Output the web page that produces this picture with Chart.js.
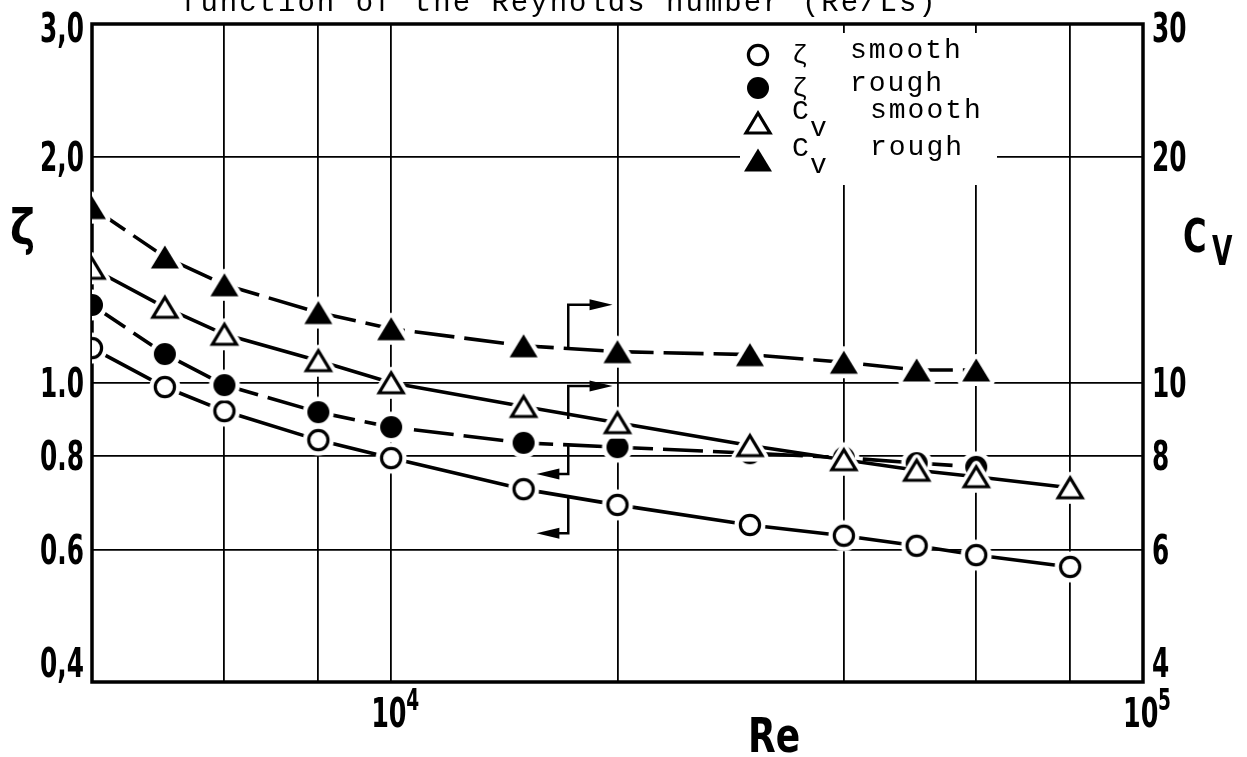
<!DOCTYPE html>
<html>
<head>
<meta charset="utf-8">
<title>Drag coefficient vs Reynolds number</title>
<script src="https://cdn.jsdelivr.net/npm/chart.js@4.4.1/dist/chart.umd.min.js"></script>
<style>
  html, body { margin: 0; padding: 0; background: #fff; }
  canvas { display: block; }
</style>
</head>
<body>
<canvas id="reChart" width="1247" height="757"></canvas>
<script>
// Reynolds numbers of the measuring points
const reSmooth = [4000, 5000, 6000, 8000, 10000, 15000, 20000, 30000, 40000, 50000, 60000, 80000];
const reRough = [4000, 5000, 6000, 8000, 10000, 15000, 20000, 30000, 40000, 50000, 60000];

// zeta (left axis) and Cv (right axis)
const zetaSmooth = [1.112, 0.987, 0.917, 0.839, 0.794, 0.722, 0.688, 0.647, 0.626, 0.607, 0.590, 0.569];
const zetaRough = [1.269, 1.092, 0.993, 0.914, 0.873, 0.832, 0.821, 0.806, 0.795, 0.782, 0.773];
const cvSmooth = [14.2, 12.6, 11.6, 10.7, 10.0, 9.3, 8.85, 8.25, 7.9, 7.65, 7.5, 7.25];
const cvRough = [17.1, 14.7, 13.5, 12.4, 11.8, 11.2, 11.0, 10.9, 10.65, 10.4, 10.4];

// axes
const reGridlines = [6000, 8000, 10000, 20000, 40000, 60000, 80000];
const reTickValues = [10000, 100000];
const zetaTicks = [0.4, 0.6, 0.8, 1.0, 2.0, 3.0];
const zetaTickLabels = ["0,4", "0.6", "0.8", "1.0", "2,0", "3,0"];
const cvTicks = [4, 6, 8, 10, 20, 30];
const cvTickLabels = ["4", "6", "8", "10", "20", "30"];

// bracket arrows telling which axis a curve belongs to (Re, zeta values)
const arrowNotes = [
  { re: 17200, tipRe: 19700, from: 1.115, to: 1.27 },
  { re: 17200, tipRe: 19700, from: 0.895, to: 0.99 },
  { re: 17200, tipRe: 15600, from: 0.827, to: 0.756 },
  { re: 17200, tipRe: 15600, from: 0.705, to: 0.631 }
];

const SANS = "'DejaVu Sans', 'Liberation Sans', sans-serif";
const MONO = "'Liberation Mono', 'DejaVu Sans Mono', monospace";

function makeMarker(shape, filled) {
  const c = document.createElement("canvas");
  c.width = 44;
  c.height = 44;
  const g = c.getContext("2d");
  const cx = 22, cy = 22;
  const tri = (w, h) => {
    g.beginPath();
    g.moveTo(cx, cy - h / 2);
    g.lineTo(cx + w / 2, cy + h / 2);
    g.lineTo(cx - w / 2, cy + h / 2);
    g.closePath();
  };
  if (shape === "circle") {
    g.beginPath();
    g.arc(cx, cy, 15.5, 0, Math.PI * 2);
    g.fillStyle = "#fff";
    g.fill();
    g.beginPath();
    g.arc(cx, cy, filled ? 11 : 9.6, 0, Math.PI * 2);
    g.fillStyle = filled ? "#000" : "#fff";
    g.fill();
    if (!filled) {
      g.lineWidth = 3.2;
      g.strokeStyle = "#000";
      g.stroke();
    }
  } else {
    tri(28, 23);
    g.lineJoin = "round";
    g.lineWidth = 9;
    g.strokeStyle = "#fff";
    g.stroke();
    g.fillStyle = "#fff";
    g.fill();
    if (filled) {
      tri(28, 23);
      g.fillStyle = "#000";
      g.fill();
    } else {
      tri(24, 20);
      g.lineJoin = "miter";
      g.lineWidth = 3.2;
      g.strokeStyle = "#000";
      g.stroke();
    }
  }
  return c;
}

const markers = {
  openCircle: makeMarker("circle", false),
  filledCircle: makeMarker("circle", true),
  openTriangle: makeMarker("triangle", false),
  filledTriangle: makeMarker("triangle", true)
};

function series(xs, ys) {
  return xs.map((x, i) => ({ x: x, y: ys[i] }));
}

function lineSet(label, data, axis, marker, dashed) {
  return {
    label: label,
    data: data,
    yAxisID: axis,
    borderColor: "#000",
    borderWidth: 3.6,
    borderDash: dashed ? [40, 10] : [],
    tension: 0,
    pointStyle: marker,
    pointRadius: 11,
    pointHoverRadius: 11
  };
}

// dataset 0 is painted last (on top)
const datasets = [
  lineSet("Cv smooth", series(reSmooth, cvSmooth), "y2", markers.openTriangle, false),
  lineSet("ζ rough", series(reRough, zetaRough), "y", markers.filledCircle, true),
  lineSet("ζ smooth", series(reSmooth, zetaSmooth), "y", markers.openCircle, false),
  lineSet("Cv rough", series(reRough, cvRough), "y2", markers.filledTriangle, true)
];

const legendRows = [
  { marker: markers.openCircle, sym: "ζ", sub: "", text: "smooth" },
  { marker: markers.filledCircle, sym: "ζ", sub: "", text: "rough" },
  { marker: markers.openTriangle, sym: "C", sub: "v", text: "smooth" },
  { marker: markers.filledTriangle, sym: "C", sub: "v", text: "rough" }
];

function drawText(ctx, text, x, y, o) {
  const size = o.size, sx = o.sx || 1;
  ctx.save();
  ctx.font = (o.weight || "normal") + " " + size + "px " + (o.family || SANS);
  ctx.fillStyle = "#000";
  ctx.textAlign = "left";
  ctx.textBaseline = "alphabetic";
  if (o.spacing) ctx.letterSpacing = o.spacing;
  const w = ctx.measureText(text).width * sx;
  const left = o.align === "right" ? x - w : o.align === "center" ? x - w / 2 : x;
  // "middle" puts the digit centre on y, otherwise y is the baseline
  ctx.translate(left, o.middle ? y + size * 0.36 : y);
  ctx.scale(sx, 1);
  ctx.fillText(text, 0, 0);
  ctx.restore();
}

const figurePlugin = {
  id: "figure",
  beforeDatasetsDraw(chart) {
    const { ctx, chartArea: a } = chart;
    ctx.save();
    ctx.lineWidth = 3.5;
    ctx.strokeStyle = "#000";
    ctx.strokeRect(a.left, a.top, a.right - a.left, a.bottom - a.top);
    ctx.restore();
  },
  afterDatasetsDraw(chart) {
    const { ctx, scales } = chart;
    const x = scales.x, y = scales.y;

    // axis arrows
    ctx.save();
    ctx.strokeStyle = "#000";
    ctx.fillStyle = "#000";
    ctx.lineWidth = 2.5;
    arrowNotes.forEach(n => {
      const bx = x.getPixelForValue(n.re);
      const tx = x.getPixelForValue(n.tipRe);
      const y0 = y.getPixelForValue(n.from);
      const y1 = y.getPixelForValue(n.to);
      const dir = Math.sign(tx - bx);
      ctx.beginPath();
      ctx.moveTo(bx, y0);
      ctx.lineTo(bx, y1);
      ctx.lineTo(tx - dir * 20, y1);
      ctx.stroke();
      ctx.beginPath();
      ctx.moveTo(tx, y1);
      ctx.lineTo(tx - dir * 23, y1 - 5.5);
      ctx.lineTo(tx - dir * 23, y1 + 5.5);
      ctx.closePath();
      ctx.fill();
    });
    ctx.restore();

    // legend, on a white patch over the grid
    ctx.save();
    ctx.fillStyle = "#fff";
    ctx.fillRect(740, 33, 257, 152);
    ctx.restore();
    const rowY = [55, 88, 123, 160];
    legendRows.forEach((r, i) => {
      ctx.drawImage(r.marker, 758 - r.marker.width / 2, rowY[i] - r.marker.height / 2);
      const base = rowY[i] + (r.sub ? -4 : 4);
      if (r.sub) {
        drawText(ctx, r.sym, 792, base, { size: 28, family: MONO });
        drawText(ctx, r.sub, 810, base + 17, { size: 28, family: MONO });
        drawText(ctx, r.text, 870, base - 1, { size: 28, family: MONO, spacing: "2px" });
      } else {
        drawText(ctx, r.sym, 792, base + 4, { size: 26, family: MONO });
        drawText(ctx, r.text, 850, base - 1, { size: 28, family: MONO, spacing: "2px" });
      }
    });
  },
  afterDraw(chart) {
    const { ctx, chartArea: a, scales } = chart;
    const clampY = v => Math.min(Math.max(v, a.top + 4), a.bottom - 19);
    const tickFont = { size: 40, sx: 0.62, weight: "bold", middle: true };

    zetaTicks.forEach((v, i) => {
      drawText(ctx, zetaTickLabels[i], a.left - 8, clampY(scales.y.getPixelForValue(v)),
        Object.assign({ align: "right" }, tickFont));
    });
    cvTicks.forEach((v, i) => {
      drawText(ctx, cvTickLabels[i], a.right + 9, clampY(scales.y2.getPixelForValue(v)), tickFont);
    });
    reTickValues.forEach(v => {
      const px = scales.x.getPixelForValue(v);
      drawText(ctx, "10", px - 20, a.bottom + 45, { size: 41, sx: 0.62, weight: "bold" });
      drawText(ctx, String(Math.round(Math.log10(v))), px + 15, a.bottom + 28,
        { size: 30, sx: 0.62, weight: "bold" });
    });

    // axis names
    drawText(ctx, "Re", 748, 752, { size: 48, sx: 0.75, weight: "bold" });
    drawText(ctx, "ζ", 10, 245, { size: 50, sx: 0.85, weight: "bold" });
    drawText(ctx, "C", 1183, 252, { size: 46, sx: 0.7, weight: "bold" });
    drawText(ctx, "V", 1212, 265, { size: 40, sx: 0.66, weight: "bold" });

    // figure caption, cut off at the top edge of the scan
    drawText(ctx, "function of the Reynolds number (Re/Ls)", 181, 11,
      { size: 29, family: MONO, spacing: "2px" });
  }
};

new Chart(document.getElementById("reChart"), {
  type: "line",
  data: { datasets: datasets },
  options: {
    responsive: false,
    animation: false,
    events: [],
    devicePixelRatio: 1,
    layout: { padding: { left: 92, right: 104, top: 24, bottom: 75 } },
    plugins: {
      legend: { display: false },
      tooltip: { enabled: false }
    },
    scales: {
      x: {
        type: "logarithmic",
        min: 4000,
        max: 100000,
        ticks: { display: false },
        border: { display: false },
        grid: { color: "#000", lineWidth: 1.8, drawTicks: false },
        afterBuildTicks: s => { s.ticks = reGridlines.map(v => ({ value: v })); }
      },
      y: {
        type: "logarithmic",
        position: "left",
        min: 0.4,
        max: 3.0,
        ticks: { display: false },
        border: { display: false },
        grid: { color: "#000", lineWidth: 1.8, drawTicks: false },
        afterBuildTicks: s => { s.ticks = zetaTicks.map(v => ({ value: v })); }
      },
      y2: {
        type: "logarithmic",
        position: "right",
        min: 4,
        max: 30,
        ticks: { display: false },
        border: { display: false },
        grid: { display: false, drawTicks: false },
        afterBuildTicks: s => { s.ticks = cvTicks.map(v => ({ value: v })); }
      }
    }
  },
  plugins: [figurePlugin]
});
</script>
</body>
</html>
